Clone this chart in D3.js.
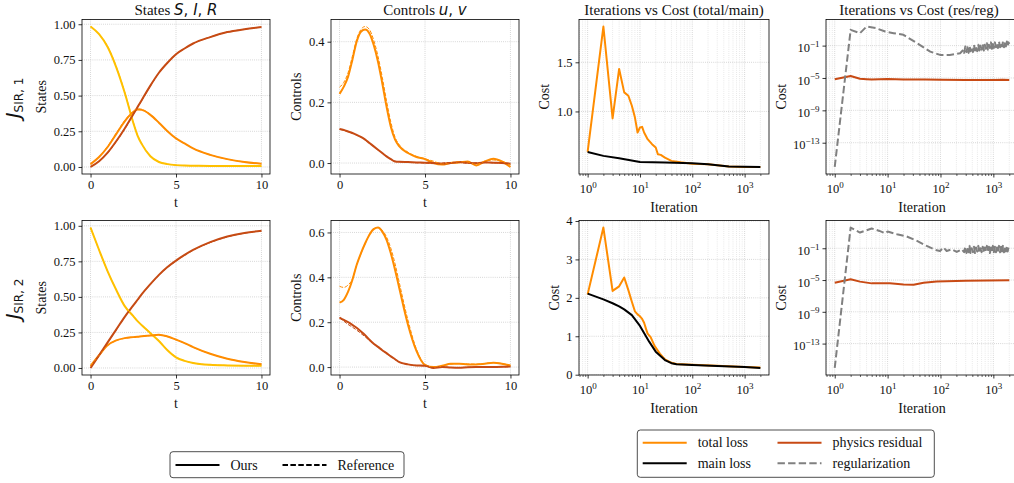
<!DOCTYPE html>
<html>
<head>
<meta charset="utf-8">
<script src="https://cdn.jsdelivr.net/npm/d3@7"></script>
<style>
    body { margin: 0; background: #fff; }
    svg text { font-family: "Liberation Serif", "Times New Roman", serif; fill: #111; }
    .math { font-family: "DejaVu Sans", sans-serif; }
</style>
</head>
<body>
<div id="chart"></div>
<script>
// ---------------- data ----------------
// states S, I, R over time (row 1 = J_SIR,1 ; row 2 = J_SIR,2)
const tStates = [0, 0.5, 1, 1.5, 2, 2.5, 2.75, 3, 3.5, 4, 4.5, 5, 5.5, 6, 7, 8, 9, 10];
const sOurs1 = [0.984, 0.93, 0.84, 0.70, 0.52, 0.31, 0.22, 0.16, 0.075, 0.035, 0.02, 0.013, 0.010, 0.009, 0.007, 0.006, 0.006, 0.006];
const iOurs1 = [0.02, 0.07, 0.14, 0.23, 0.32, 0.385, 0.403, 0.40, 0.365, 0.31, 0.25, 0.20, 0.165, 0.13, 0.085, 0.055, 0.035, 0.022];
const rOurs1 = [0.0, 0.04, 0.10, 0.18, 0.27, 0.37, 0.42, 0.47, 0.57, 0.66, 0.73, 0.79, 0.83, 0.865, 0.91, 0.945, 0.965, 0.98];
const sRef1 = [0.984, 0.93, 0.845, 0.705, 0.525, 0.315, 0.225, 0.163, 0.077, 0.036, 0.02, 0.013, 0.010, 0.009, 0.007, 0.006, 0.006, 0.006];
const iRef1 = [0.02, 0.072, 0.145, 0.236, 0.326, 0.39, 0.408, 0.404, 0.368, 0.312, 0.251, 0.2, 0.165, 0.13, 0.085, 0.055, 0.035, 0.022];
const rRef1 = [0.0, 0.04, 0.098, 0.177, 0.266, 0.366, 0.416, 0.466, 0.567, 0.658, 0.728, 0.788, 0.829, 0.864, 0.91, 0.945, 0.965, 0.98];
const sOurs2 = [0.988, 0.83, 0.68, 0.55, 0.435, 0.365, 0.33, 0.30, 0.245, 0.19, 0.125, 0.075, 0.05, 0.035, 0.022, 0.018, 0.016, 0.015];
const iOurs2 = [0.014, 0.09, 0.16, 0.194, 0.21, 0.217, 0.22, 0.224, 0.229, 0.234, 0.222, 0.199, 0.175, 0.147, 0.10, 0.065, 0.042, 0.026];
const rOurs2 = [0.0, 0.09, 0.18, 0.27, 0.36, 0.44, 0.48, 0.52, 0.59, 0.655, 0.71, 0.755, 0.795, 0.83, 0.885, 0.925, 0.95, 0.965];
const sRef2 = [0.988, 0.83, 0.68, 0.55, 0.438, 0.368, 0.333, 0.303, 0.248, 0.193, 0.128, 0.077, 0.051, 0.035, 0.022, 0.018, 0.016, 0.015];
const iRef2 = [0.014, 0.088, 0.158, 0.193, 0.209, 0.216, 0.219, 0.223, 0.228, 0.232, 0.221, 0.198, 0.174, 0.146, 0.10, 0.065, 0.042, 0.026];
const rRef2 = [0.0, 0.088, 0.178, 0.268, 0.358, 0.438, 0.478, 0.518, 0.588, 0.652, 0.707, 0.752, 0.792, 0.828, 0.882, 0.922, 0.948, 0.964];

// controls u, v over time
const tControls = [0, 0.25, 0.5, 0.75, 1, 1.25, 1.5, 1.75, 2, 2.25, 2.5, 2.75, 3, 3.25, 3.5, 4, 4.5, 5, 5.5, 6, 6.5, 7, 7.5, 8, 8.5, 9, 9.5, 10];
const uOurs1 = [0.228, 0.252, 0.285, 0.34, 0.40, 0.433, 0.44, 0.427, 0.389, 0.334, 0.263, 0.186, 0.12, 0.077, 0.055, 0.033, 0.02, 0.013, 0.0, -0.005, 0.0, 0.002, 0.005, -0.008, 0.005, 0.014, 0.005, -0.013];
const uRef1 = [0.25, 0.266, 0.298, 0.352, 0.408, 0.44, 0.45, 0.44, 0.405, 0.352, 0.283, 0.205, 0.135, 0.085, 0.06, 0.036, 0.022, 0.014, 0.006, -0.003, 0.002, 0.004, 0.003, -0.004, 0.006, 0.01, 0.006, -0.006];
const vOurs1 = [0.112, 0.109, 0.104, 0.099, 0.093, 0.086, 0.077, 0.066, 0.055, 0.044, 0.033, 0.022, 0.013, 0.005, 0.004, 0.003, 0.002, 0.001, 0.0, -0.002, 0.0, 0.003, 0.001, -0.001, 0.002, 0.001, 0.0, -0.002];
const vRef1 = [0.111, 0.108, 0.103, 0.098, 0.092, 0.085, 0.076, 0.065, 0.054, 0.043, 0.032, 0.021, 0.012, 0.006, 0.004, 0.002, 0.001, 0.0, -0.002, 0.0, 0.002, 0.002, -0.001, 0.001, 0.003, 0.0, 0.001, -0.003];
const uOurs2 = [0.287, 0.30, 0.336, 0.388, 0.455, 0.507, 0.552, 0.59, 0.615, 0.622, 0.604, 0.567, 0.507, 0.433, 0.35, 0.19, 0.072, 0.009, 0.0, 0.006, 0.015, 0.015, 0.012, 0.012, 0.015, 0.019, 0.015, 0.007];
const uRef2 = [0.36, 0.355, 0.366, 0.392, 0.455, 0.505, 0.55, 0.592, 0.618, 0.622, 0.61, 0.58, 0.53, 0.46, 0.375, 0.21, 0.08, 0.012, 0.0, 0.005, 0.013, 0.016, 0.014, 0.013, 0.016, 0.02, 0.016, 0.008];
const vOurs2 = [0.221, 0.21, 0.2, 0.188, 0.175, 0.159, 0.142, 0.122, 0.104, 0.09, 0.075, 0.062, 0.048, 0.035, 0.022, 0.012, 0.007, 0.006, -0.004, 0.0, -0.002, -0.003, -0.001, 0.0, 0.0, 0.0, 0.001, 0.003];
const vRef2 = [0.218, 0.205, 0.19, 0.178, 0.165, 0.15, 0.135, 0.118, 0.102, 0.088, 0.074, 0.06, 0.047, 0.034, 0.022, 0.012, 0.007, 0.005, -0.003, 0.001, -0.002, -0.002, -0.001, 0.0, 0.0, 0.001, 0.001, 0.002];

// cost curves (total / main)
const totalIter1 = [1, 2, 3, 4, 5, 6, 7, 8, 9, 10, 11, 12, 14, 17, 20, 22, 25, 30, 40, 60, 100, 200, 500, 1000, 2000];
const totalLoss1 = [0.588, 1.864, 0.929, 1.432, 1.194, 1.16, 1.058, 0.94, 0.786, 0.837, 0.843, 0.786, 0.718, 0.667, 0.633, 0.565, 0.558, 0.531, 0.497, 0.483, 0.469, 0.463, 0.439, 0.436, 0.435];
const mainIter1 = [1, 2, 4, 10, 30, 100, 200, 500, 2000];
const mainLoss1 = [0.588, 0.548, 0.524, 0.486, 0.48, 0.473, 0.463, 0.439, 0.435];
const totalIter2 = [1, 2, 3, 4, 5, 6, 7, 8, 9, 10, 11, 12, 13, 14, 16, 19, 24, 30, 40, 50, 100, 300, 1000, 2000];
const totalLoss2 = [2.09, 3.83, 2.18, 2.30, 2.53, 2.2, 1.9, 1.65, 1.57, 1.52, 1.45, 1.35, 1.2, 1.07, 0.98, 0.75, 0.55, 0.4, 0.31, 0.28, 0.26, 0.23, 0.2, 0.185];
const mainIter2 = [1, 2, 3, 4, 5, 7, 10, 15, 20, 30, 40, 50, 100, 300, 1000, 2000];
const mainLoss2 = [2.11, 1.96, 1.86, 1.78, 1.70, 1.55, 1.27, 0.86, 0.6, 0.38, 0.3, 0.27, 0.25, 0.225, 0.2, 0.175];

// cost curves (residual / regularization), stored as log10 of the cost
const resIter1 = [1, 2, 3, 4, 5, 10, 20, 50, 100, 300, 1000, 1500, 2000];
const resLog1 = [-5.15, -4.75, -5.1, -5.15, -5.18, -5.12, -5.18, -5.2, -5.22, -5.25, -5.25, -5.22, -5.25];
const regIter1 = [1, 2, 3, 4, 6, 9, 13, 20, 36, 64, 98, 150, 235, 270];
const regLog1 = [-16.0, 0.95, 0.54, 1.36, 1.16, 0.74, 0.54, 0.33, -0.7, -1.74, -2.15, -2.15, -1.94, -1.53];
const resIter2 = [1, 2, 3, 5, 11, 20, 31, 48, 85, 300, 2000];
const resLog2 = [-5.33, -4.91, -5.2, -5.42, -5.42, -5.55, -5.6, -5.33, -5.17, -5.1, -5.04];
const regIter2 = [1, 2, 3, 5, 7, 9, 10, 15, 23, 36, 55, 80, 98, 114, 131, 163, 203, 253];
const regLog2 = [-16.07, 1.61, 0.98, 1.49, 1.18, 0.89, 1.1, 0.77, 0.48, -0.08, -0.71, -1.2, -1.34, -0.91, -1.34, -1.13, -1.47, -1.13];
// noisy tail of the regularization term
const noiseIter = [280, 295, 310, 325, 340, 355, 370, 390, 410, 430, 450, 470, 495, 520, 545, 570, 600, 630, 660, 690, 720, 755, 790, 825, 860, 900, 940, 980, 1020, 1070, 1120, 1170, 1220, 1280, 1340, 1400, 1460, 1520, 1590, 1660, 1730, 1800, 1870, 1940, 2000];
const regNoiseLog1 = [-1.9, -1.1, -1.8, -1.2, -1.9, -1.0, -1.7, -1.2, -1.8, -0.9, -1.6, -1.1, -1.7, -0.9, -1.6, -1.0, -1.5, -0.8, -1.6, -0.9, -1.4, -0.7, -1.5, -0.9, -1.3, -0.6, -1.4, -0.8, -1.3, -0.6, -1.2, -0.7, -1.3, -0.5, -1.2, -0.7, -1.1, -0.5, -1.2, -0.6, -1.1, -0.5, -1.0, -0.6, -0.8];
const regNoiseLog2 = [-1.5, -0.8, -1.6, -0.9, -1.5, -0.7, -1.6, -1.0, -1.5, -0.8, -1.6, -0.9, -1.4, -0.7, -1.6, -1.0, -1.5, -0.8, -1.6, -0.9, -1.4, -0.7, -1.5, -0.8, -1.6, -0.9, -1.4, -0.7, -1.5, -0.8, -1.5, -0.9, -1.4, -0.7, -1.5, -0.8, -1.4, -0.7, -1.5, -0.8, -1.4, -0.7, -1.4, -0.8, -1.0];

// tick values
const timeTicks = [0, 5, 10];
const stateTicks = [0, 0.25, 0.5, 0.75, 1.0];
const controlTicks1 = [0, 0.2, 0.4];
const controlTicks2 = [0, 0.2, 0.4, 0.6];
const costTicks1 = [1.0, 1.5];
const costTicks2 = [0, 1, 2, 3, 4];
const iterTicks = [1, 10, 100, 1000];
const logCostTicks = [1e-13, 1e-9, 1e-5, 1e-1];

// colours
const colS = '#ffc000', colI = '#ff8c00', colR = '#c64b14';
const colTotal = '#ff8c00', colMain = '#000000', colRes = '#c84a14', colReg = '#808080';

// ---------------- layout ----------------
const svg = d3.select('#chart')
    .append('svg')
    .attr('width', 1014)
    .attr('height', 483)
;
// pixel boxes of the axes: columns (left,right) and rows (top,bottom)
const colBox = [[82, 270], [331, 519], [579, 769], [826, 1018]];
const rowBox = [[19.5, 174], [220.5, 375]];

function padLinear(vals) {
    let [lo, hi] = d3.extent(vals);
    let m = (hi - lo) * 0.05;
    return [lo - m, hi + m];
}
function padLog(vals) {
    let [lo, hi] = d3.extent(vals).map(Math.log10);
    let m = (hi - lo) * 0.05;
    return [Math.pow(10, lo - m), Math.pow(10, hi + m)];
}
const pow10 = arr => arr.map(v => Math.pow(10, v));

// write "10^k" into an axis label
function powerLabel(textSel) {
    textSel.each(function (d) {
        let k = Math.round(Math.log10(d));
        let t = d3.select(this).text(null);
        t.append('tspan').text('10');
        t.append('tspan').attr('dy', -5.5).style('font-size', '9px')
            .text(k < 0 ? '\u2212' + (-k) : String(k));
    });
}

const gridDash = '0.8,1.3';

function drawPanel(col, row, p) {
    let [x0, x1] = colBox[col];
    let [y0, y1] = rowBox[row];
    let x = p.x.range([x0, x1]);
    let y = p.y.range([y1, y0]);
    let g = svg.append('g');

    // minor grid for log x
    let minor = [];
    if (p.logX) {
        minor = x.ticks().filter(v => !p.xTicks.includes(v));
        g.selectAll(null)
            .data(minor)
            .enter()
            .append('line')
            .attr('x1', d => x(d)).attr('x2', d => x(d))
            .attr('y1', y0).attr('y2', y1)
            .attr('stroke', '#d2d2d2')
            .attr('stroke-width', 0.6)
            .attr('stroke-dasharray', gridDash)
        ;
    }
    // major grid
    g.selectAll(null)
        .data(p.xTicks)
        .enter()
        .append('line')
        .attr('x1', d => x(d)).attr('x2', d => x(d))
        .attr('y1', y0).attr('y2', y1)
        .attr('stroke', '#c2c2c2')
        .attr('stroke-width', 0.8)
        .attr('stroke-dasharray', gridDash)
    ;
    g.selectAll(null)
        .data(p.yTicks)
        .enter()
        .append('line')
        .attr('x1', x0).attr('x2', x1)
        .attr('y1', d => y(d)).attr('y2', d => y(d))
        .attr('stroke', '#c2c2c2')
        .attr('stroke-width', 0.8)
        .attr('stroke-dasharray', gridDash)
    ;

    // data lines, clipped to the axes box
    let clipId = 'clip' + col + row;
    svg.append('clipPath').attr('id', clipId)
        .append('rect')
        .attr('x', x0).attr('y', y0)
        .attr('width', x1 - x0).attr('height', y1 - y0)
    ;
    let plot = g.append('g').attr('clip-path', `url(#${clipId})`);
    p.series.forEach(s => {
        let line = d3.line()
            .x(d => x(d[0]))
            .y(d => y(d[1]))
            .curve(s.smooth ? d3.curveMonotoneX : d3.curveLinear)
        ;
        plot.append('path')
            .datum(d3.zip(s.xs, s.ys))
            .attr('d', line)
            .attr('fill', 'none')
            .attr('stroke', s.color)
            .attr('stroke-width', s.width)
            .attr('stroke-dasharray', s.dash || null)
            .attr('stroke-linejoin', 'round')
        ;
    });

    // frame
    g.append('rect')
        .attr('x', x0).attr('y', y0)
        .attr('width', x1 - x0).attr('height', y1 - y0)
        .attr('fill', 'none')
        .attr('stroke', '#000')
        .attr('stroke-width', 0.8)
    ;

    // x axis
    let xAxis = d3.axisBottom(x)
        .tickValues(p.xTicks)
        .tickSize(3.5)
        .tickSizeOuter(0)
        .tickPadding(p.logX ? 7 : 3)
        .tickFormat(p.xFormat || d3.format('d'))
    ;
    let gx = g.append('g')
        .attr('transform', `translate(0,${y1})`)
        .call(xAxis)
        .attr('font-size', 12.5)
    ;
    gx.select('.domain').remove();
    gx.selectAll('line').attr('stroke', '#000').attr('stroke-width', 0.8);
    if (p.logX) {
        powerLabel(gx.selectAll('text'));
        let gm = g.append('g')
            .attr('transform', `translate(0,${y1})`)
            .call(d3.axisBottom(x).tickValues(minor).tickSize(2).tickFormat(''))
        ;
        gm.select('.domain').remove();
        gm.selectAll('line').attr('stroke', '#000').attr('stroke-width', 0.6);
    }

    // y axis
    let yAxis = d3.axisLeft(y)
        .tickValues(p.yTicks)
        .tickSize(3.5)
        .tickSizeOuter(0)
        .tickPadding(3)
        .tickFormat(p.yFormat || null)
    ;
    let gy = g.append('g')
        .attr('transform', `translate(${x0},0)`)
        .call(yAxis)
        .attr('font-size', 12.5)
    ;
    gy.select('.domain').remove();
    gy.selectAll('line').attr('stroke', '#000').attr('stroke-width', 0.8);
    if (p.logY) {
        powerLabel(gy.selectAll('text'));
        gy.selectAll('text').attr('dy', '0.5em');
    }

    // axis labels
    svg.append('text')
        .attr('x', (x0 + x1) / 2)
        .attr('y', p.xLabelY)
        .attr('text-anchor', 'middle')
        .style('font-size', '14px')
        .text(p.xLabel)
    ;
    svg.append('text')
        .attr('transform', `translate(${p.yLabelX},${(y0 + y1) / 2}) rotate(-90)`)
        .attr('dy', '0.33em')
        .attr('text-anchor', 'middle')
        .style('font-size', '14px')
        .text(p.yLabel)
    ;
}

// ---------------- panels ----------------
const stateSets = [
    [sOurs1, iOurs1, rOurs1, sRef1, iRef1, rRef1],
    [sOurs2, iOurs2, rOurs2, sRef2, iRef2, rRef2]
];
const controlSets = [
    [uOurs1, vOurs1, uRef1, vRef1, controlTicks1],
    [uOurs2, vOurs2, uRef2, vRef2, controlTicks2]
];
const costSets = [
    [totalIter1, totalLoss1, mainIter1, mainLoss1, costTicks1, d3.format('.1f'), 544],
    [totalIter2, totalLoss2, mainIter2, mainLoss2, costTicks2, d3.format('d'), 554]
];
const resRegSets = [
    [resIter1, resLog1, regIter1.concat(noiseIter), regLog1.concat(regNoiseLog1)],
    [resIter2, resLog2, regIter2.concat(noiseIter), regLog2.concat(regNoiseLog2)]
];
const iterDomain = padLog([1, 2000]);

[0, 1].forEach(row => {
    let dy = row === 0 ? 0 : 201;
    let [sO, iO, rO, sR, iR, rR] = stateSets[row];
    drawPanel(0, row, {
        x: d3.scaleLinear().domain(padLinear(tStates)),
        y: d3.scaleLinear().domain(padLinear([].concat(sO, iO, rO))),
        xTicks: timeTicks, yTicks: stateTicks, yFormat: d3.format('.2f'),
        xLabel: 't', xLabelY: 206.5 + dy, yLabel: 'States', yLabelX: 41.3,
        series: [
            {xs: tStates, ys: sO, color: colS, width: 2, smooth: true},
            {xs: tStates, ys: iO, color: colI, width: 2, smooth: true},
            {xs: tStates, ys: rO, color: colR, width: 2, smooth: true},
            {xs: tStates, ys: sR, color: colS, width: 1, dash: '3.7,1.6', smooth: true},
            {xs: tStates, ys: iR, color: colI, width: 1, dash: '3.7,1.6', smooth: true},
            {xs: tStates, ys: rR, color: colR, width: 1, dash: '3.7,1.6', smooth: true}
        ]
    });

    let [uO, vO, uR, vR, cTicks] = controlSets[row];
    drawPanel(1, row, {
        x: d3.scaleLinear().domain(padLinear(tControls)),
        y: d3.scaleLinear().domain(padLinear([].concat(uO, vO, uR, vR))),
        xTicks: timeTicks, yTicks: cTicks, yFormat: d3.format('.1f'),
        xLabel: 't', xLabelY: 206.5 + dy, yLabel: 'Controls', yLabelX: 296.7,
        series: [
            {xs: tControls, ys: uO, color: colI, width: 2, smooth: true},
            {xs: tControls, ys: vO, color: colR, width: 2, smooth: true},
            {xs: tControls, ys: uR, color: colI, width: 1, dash: '3.7,1.6', smooth: true},
            {xs: tControls, ys: vR, color: colR, width: 1, dash: '3.7,1.6', smooth: true}
        ]
    });

    let [tIt, tLoss, mIt, mLoss, kTicks, kFmt, labX] = costSets[row];
    drawPanel(2, row, {
        x: d3.scaleLog().domain(iterDomain), logX: true,
        y: d3.scaleLinear().domain(padLinear([].concat(tLoss, mLoss))),
        xTicks: iterTicks, yTicks: kTicks, yFormat: kFmt,
        xLabel: 'Iteration', xLabelY: 211.5 + dy, yLabel: 'Cost', yLabelX: labX,
        series: [
            {xs: tIt, ys: tLoss, color: colTotal, width: 2},
            {xs: mIt, ys: mLoss, color: colMain, width: 2}
        ]
    });

    let [rIt, rLog, gIt, gLog] = resRegSets[row];
    drawPanel(3, row, {
        x: d3.scaleLog().domain(iterDomain), logX: true,
        y: d3.scaleLog().domain(padLog(pow10([].concat(rLog, gLog)))), logY: true,
        xTicks: iterTicks, yTicks: logCostTicks,
        xLabel: 'Iteration', xLabelY: 211.5 + dy, yLabel: 'Cost', yLabelX: 781.7,
        series: [
            {xs: rIt, ys: pow10(rLog), color: colRes, width: 2},
            {xs: gIt, ys: pow10(gLog), color: colReg, width: 2, dash: '7.4,3.2'}
        ]
    });
});

// ---------------- titles ----------------
function mathTitle(cx, plain, letters) {
    let t = svg.append('text')
        .attr('x', cx)
        .attr('y', 14.5)
        .attr('text-anchor', 'middle')
        .style('font-size', '15px')
    ;
    t.append('tspan').text(plain);
    letters.forEach((l, i) => {
        if (i > 0) t.append('tspan').attr('class', 'math').text(', ');
        t.append('tspan').attr('class', 'math').style('font-style', 'italic').text(l);
    });
}
mathTitle((colBox[0][0] + colBox[0][1]) / 2, 'States ', ['S', 'I', 'R']);
mathTitle((colBox[1][0] + colBox[1][1]) / 2, 'Controls ', ['u', 'v']);
svg.append('text')
    .attr('x', (colBox[2][0] + colBox[2][1]) / 2).attr('y', 14.5)
    .attr('text-anchor', 'middle').style('font-size', '15px')
    .text('Iterations vs Cost (total/main)')
;
svg.append('text')
    .attr('x', 919).attr('y', 14.5)
    .attr('text-anchor', 'middle').style('font-size', '15px')
    .text('Iterations vs Cost (res/reg)')
;

// row labels J_SIR,1 and J_SIR,2
[['1', 98], ['2', 299]].forEach(([k, cy]) => {
    let t = svg.append('text')
        .attr('class', 'math')
        .attr('transform', `translate(19.5,${cy}) rotate(-90)`)
        .attr('text-anchor', 'middle')
    ;
    t.append('tspan').style('font-style', 'italic').style('font-size', '20px').text('J');
    t.append('tspan').attr('dy', 3.5).style('font-size', '12px').text('SIR, ' + k);
});

// ---------------- legends ----------------
function legendBox(x, y, w, h) {
    svg.append('rect')
        .attr('x', x).attr('y', y)
        .attr('width', w).attr('height', h)
        .attr('rx', 3)
        .attr('fill', '#fff')
        .attr('stroke', '#222')
        .attr('stroke-width', 0.8)
    ;
}
function legendItem(x, y, color, dash, width, label) {
    svg.append('line')
        .attr('x1', x).attr('x2', x + 44)
        .attr('y1', y).attr('y2', y)
        .attr('stroke', color)
        .attr('stroke-width', width)
        .attr('stroke-dasharray', dash)
    ;
    svg.append('text')
        .attr('x', x + 55).attr('y', y + 4.5)
        .style('font-size', '14px')
        .text(label)
    ;
}
legendBox(170, 451.7, 234, 26);
legendItem(175.5, 465, '#000', null, 2, 'Ours');
legendItem(282.5, 465, '#000', '5.5,2.4', 1.8, 'Reference');

legendBox(637.3, 430, 297, 47.3);
legendItem(642.7, 442.7, colTotal, null, 2, 'total loss');
legendItem(642.7, 463.3, colMain, null, 2, 'main loss');
legendItem(777.5, 442.7, colRes, null, 2, 'physics residual');
legendItem(777.5, 463.3, colReg, '7.4,3.2', 2, 'regularization');
</script>
</body>
</html>
